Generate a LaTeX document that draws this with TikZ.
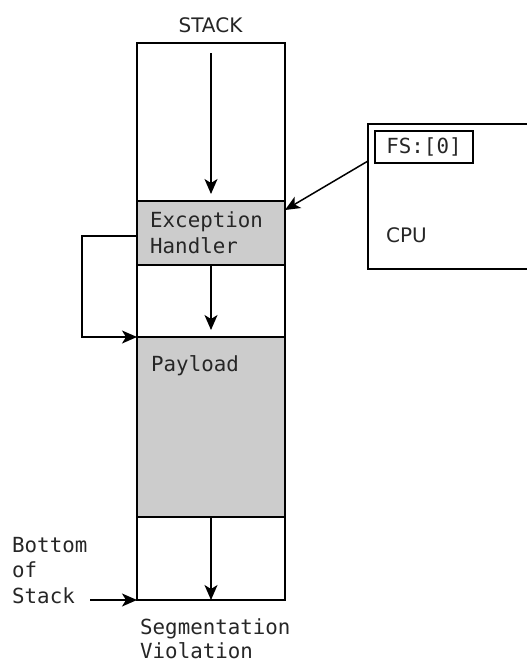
\documentclass[tikz,border=0pt]{standalone}
\usepackage{fontspec}
\usetikzlibrary{arrows.meta}
\newfontfamily\monof{DejaVu Sans Mono}
\newfontfamily\sansf{DejaVu Sans}
\tikzset{
  seg/.style={draw, line width=1.8pt, rectangle, inner sep=0pt, outer sep=0pt, minimum width=148pt, anchor=north west},
  shaded/.style={seg, fill=black!20},
  arr/.style={line width=1.5pt, -{Stealth[length=15pt,width=13pt,inset=4pt]}},
  mono/.style={font=\monof\fontsize{20.8}{25.5}\selectfont, text=black!85, inner sep=0pt, align=left},
  sanslbl/.style={font=\sansf\fontsize{20}{22}\selectfont, text=black!85, inner sep=0pt},
}
\begin{document}
\begin{tikzpicture}[x=1pt,y=-1pt]
\useasboundingbox (0,0) rectangle (527,662);
% stack sections
\node[seg, minimum height=158pt] (top) at (137,43) {};
\node[shaded, minimum height=64pt] (eh) at (137,201) {};
\node[seg, minimum height=72pt] (mid) at (137,265) {};
\node[shaded, minimum height=180pt] (pay) at (137,337) {};
\node[seg, minimum height=83pt] (bot) at (137,517) {};
% labels inside stack
\node[mono, anchor=base west] (ehl) at (150,253) {Exception\\Handler};
\node[mono, anchor=base west] (payl) at (151,371) {Payload};
% title
\node[sanslbl, anchor=base] (stk) at (210.5,32) {STACK};
% CPU box
\begin{scope}
\clip (0,0) rectangle (527,662);
\node[draw, line width=1.8pt, rectangle, inner sep=0pt, outer sep=0pt, minimum width=172pt, minimum height=145pt, anchor=north west] (cpu) at (368,124) {};
\end{scope}
\node[draw, line width=1.8pt, rectangle, inner sep=0pt, outer sep=0pt, minimum width=98pt, minimum height=32pt, anchor=north west] (fs) at (375,131) {};
\node[mono] (fsl) at (fs.center) {FS:[0]};
\node[sanslbl, anchor=base west] (cpul) at (386,242) {CPU};
% bottom labels
\node[mono, anchor=base west] (bos) at (12,603) {Bottom\\of\\Stack};
\node[mono, anchor=base west, font=\monof\fontsize{20.8}{24}\selectfont] (sv) at (140,658) {Segmentation\\Violation};
\coordinate (bsa) at ([xshift=-47pt]bot.south west);
% arrows
\draw[arr] ([yshift=-10pt]top.north) -- ([yshift=7pt]eh.north);
\draw[arr] (eh.south) -- ([yshift=7pt]pay.north);
\draw[arr] (pay.south) -- (bot.south);
\draw[arr] ([yshift=-3pt]eh.west) -- ++(-55,0) |- (pay.north west);
\draw[arr] ([yshift=2pt]cpu.west |- fs.south) -- ([yshift=-9pt]eh.north east);
\draw[arr] (bsa) -- (bot.south west);
\end{tikzpicture}
\end{document}
